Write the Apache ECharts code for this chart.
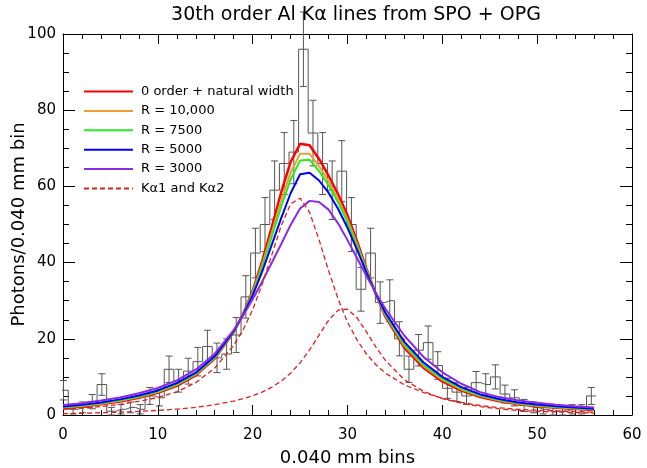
<!DOCTYPE html>
<html><head><meta charset="utf-8">
<script src="https://cdn.jsdelivr.net/npm/echarts@6/dist/echarts.min.js"></script>
<style>html,body{margin:0;padding:0;background:#fff}#c{width:647px;height:468px}</style>
</head><body><div id="c"></div>
<script>
// ---- data ----
const curveX = [0,2,4,6,8,10,12,14,16,18,19,20,21,22,23,24,25,26,27,28,29,30,31,32,33,34,36,38,40,42,44,46,48,50,52,54,56];
const redNat = [1.8,2.25,2.8,3.55,4.55,5.8,7.65,10.4,14.8,21.8,26.6,32.6,40.3,49.2,58.4,66.4,71.2,70.8,67.2,62.8,58.0,52.4,45.6,38.4,31.6,25.8,17.6,12.4,8.8,6.4,4.7,3.6,2.8,2.3,1.9,1.6,1.3];
const r10000 = [1.94,2.39,2.97,3.73,4.74,6.02,7.9,10.65,15.0,21.9,26.5,32.2,39.4,47.7,56.1,63.6,68.6,68.6,65.28,61.29,56.69,51.29,44.85,38.08,31.67,26.16,18.14,12.89,9.2,6.7,5.0,3.8,2.97,2.45,2.04,1.72,1.42];
const r7500 = [2.02,2.49,3.08,3.84,4.87,6.16,8.06,10.8,15.1,21.9,26.4,31.9,38.8,46.7,54.6,61.8,66.8,67.0,64.04,60.31,55.84,50.58,44.37,37.87,31.71,26.39,18.5,13.21,9.5,6.9,5.1,3.95,3.08,2.55,2.12,1.8,1.5];
const r5000 = [2.2,2.7,3.3,4.1,5.1,6.45,8.4,11.1,15.4,22.0,26.3,31.4,37.6,44.6,51.6,58.2,63.2,63.6,61.55,58.35,54.15,49.15,43.4,37.45,31.8,26.85,19.2,13.85,10.0,7.3,5.4,4.2,3.3,2.75,2.3,1.95,1.65];
const r3000 = [2.6,3.1,3.8,4.6,5.7,7.1,9.1,11.9,16.1,22.3,26.1,30.4,35.0,39.9,44.8,49.9,54.2,56.2,55.9,53.9,50.3,45.9,41.2,36.5,32.0,27.9,20.8,15.3,11.2,8.2,6.0,4.7,3.8,3.2,2.7,2.3,2.0];
const ka1 = [1.5,1.8,2.2,2.8,3.6,4.6,6.1,8.5,12.3,18.3,22.4,27.6,34.3,41.9,49.6,55.4,56.9,53.2,46.0,37.9,30.5,24.4,19.7,16.0,13.2,11.0,7.9,5.9,4.4,3.3,2.5,1.9,1.5,1.25,1.05,0.9,0.75];
const ka2 = [0.35,0.45,0.6,0.75,0.95,1.2,1.55,2.0,2.7,3.66,4.28,5.04,6.02,7.27,8.89,10.98,13.69,17.07,20.99,24.86,27.51,27.78,25.53,21.8,17.82,14.31,9.26,6.24,4.3,3.1,2.2,1.6,1.2,0.95,0.8,0.65,0.5];
// histogram counts per 0.040 mm bin (bin 0 .. 55)
const counts = [6.5,1.5,2,3.5,8,1,1.5,2,1.5,5,4.5,12,9,11.5,14,18,15,16,21,31,42.5,50,59,66,69,96,74,66,59,64,50,33,42.5,29.5,30,20,12,17,19,13,7,6,5,8.5,8,10,5.5,4.5,2.5,2,1.5,1,1,1.5,1.5,5];
const binStart = 0.05, binStep = 1.012;
const xTicks = {min:0, max:60, interval:10};
const yTicks = {min:0, max:100, interval:20};
const names = ['0 order + natural width','R = 10,000','R = 7500','R = 5000','R = 3000','K\u03b11 and K\u03b12'];

// ---- build ----
const FONT = 'DejaVu Sans';
const pair = ys => curveX.map((x,i)=>[x, ys[i]]);
const centers = counts.map((c,i)=> binStart + binStep*i);
const last = counts.length-1;
const histData = [[centers[0]-binStep/2, counts[0]]].concat(centers.map((x,i)=>[x,counts[i]]), [[centers[last]+binStep/2, counts[last]]]);
const errData = counts.map((c,i)=>[centers[i], c-Math.sqrt(c), c+Math.sqrt(c)]);

function axisCommon(extra){
  return Object.assign({
    type:'value', splitLine:{show:false},
    axisLine:{show:true, onZero:false, lineStyle:{color:'#000', width:1}},
    axisTick:{show:true, inside:true, lineStyle:{color:'#000', width:1}},
    minorTick:{show:true, lineStyle:{color:'#000', width:1}},
  }, extra);
}
const chart = echarts.init(document.getElementById('c'));
const lineS = (name, ys, color, width, dashed) => ({
  name, type:'line', data: pair(ys), symbol:'none', smooth:false, z: 5,
  lineStyle:{color, width, type: dashed ? [5,3] : 'solid'}, itemStyle:{color}
});
chart.setOption({
  animation:false,
  title:{text:'30th order Al K\u03b1 lines from SPO + OPG', left:351, top:1, textAlign:'center',
    textStyle:{fontFamily:FONT, fontSize:19, fontWeight:'normal', color:'#000'}},
  grid:{left:63, right:15, top:34, bottom:53, containLabel:false, outerBoundsMode:'none'},
  legend:{orient:'vertical', left:83, top:85, padding:0, itemWidth:49, itemHeight:12, itemGap:6.4,
    itemStyle:{opacity:0},
    data: names, textStyle:{fontFamily:FONT, fontSize:13, color:'#000', padding:[0,0,0,3]}},
  xAxis:[
    axisCommon(Object.assign({position:'bottom', name:'0.040 mm bins', nameLocation:'middle', nameGap:34,
      nameMoveOverlap:false,
      nameTextStyle:{fontFamily:FONT, fontSize:18, color:'#000'},
      axisTick:{show:true, inside:true, length:10, lineStyle:{color:'#000'}},
      minorTick:{show:true, splitNumber:5, length:5, lineStyle:{color:'#000'}},
      axisLabel:{fontFamily:FONT, fontSize:15, color:'#000', margin:13}}, xTicks)),
    axisCommon(Object.assign({position:'top',
      axisTick:{show:true, inside:true, length:10, lineStyle:{color:'#000'}},
      minorTick:{show:true, splitNumber:5, length:5, lineStyle:{color:'#000'}},
      axisLabel:{show:false}}, xTicks))
  ],
  yAxis:[
    axisCommon(Object.assign({position:'left', name:'Photons/0.040 mm bin', nameLocation:'middle', nameGap:35,
      nameMoveOverlap:false,
      nameTextStyle:{fontFamily:FONT, fontSize:18, color:'#000'},
      axisTick:{show:true, inside:true, length:12, lineStyle:{color:'#000'}},
      minorTick:{show:true, splitNumber:4, length:6, lineStyle:{color:'#000'}},
      axisLabel:{fontFamily:FONT, fontSize:15, color:'#000', margin:7}}, yTicks)),
    axisCommon(Object.assign({position:'right',
      axisTick:{show:true, inside:true, length:12, lineStyle:{color:'#000'}},
      minorTick:{show:true, splitNumber:4, length:6, lineStyle:{color:'#000'}},
      axisLabel:{show:false}}, yTicks))
  ],
  series:[
    {name:'data', type:'line', step:'middle', data:histData, symbol:'none', z:2,
      lineStyle:{color:'#555', width:1}, itemStyle:{color:'#555'}},
    {name:'errors', type:'custom', data:errData, z:2, encode:{x:0, y:[1,2]},
      renderItem:(params, api)=>{
        const x = api.value(0);
        const a = api.coord([x, api.value(1)]), b = api.coord([x, api.value(2)]);
        const w = 3.5, st = {stroke:'#555', lineWidth:1};
        return {type:'group', children:[
          {type:'line', shape:{x1:a[0], y1:a[1], x2:b[0], y2:b[1]}, style:st},
          {type:'line', shape:{x1:a[0]-w, y1:a[1], x2:a[0]+w, y2:a[1]}, style:st},
          {type:'line', shape:{x1:b[0]-w, y1:b[1], x2:b[0]+w, y2:b[1]}, style:st}
        ]};
      }},
    lineS(names[0], redNat, '#ff0000', 2.5, false),
    lineS(names[1], r10000, '#eaa030', 2, false),
    lineS(names[2], r7500, '#22ee22', 2, false),
    lineS(names[3], r5000, '#0000ff', 2, false),
    lineS(names[4], r3000, '#8a2be2', 2, false),
    lineS(names[5], ka1, '#e02020', 1.3, true),
    lineS('Ka2', ka2, '#e02020', 1.3, true)
  ]
});
</script></body></html>
